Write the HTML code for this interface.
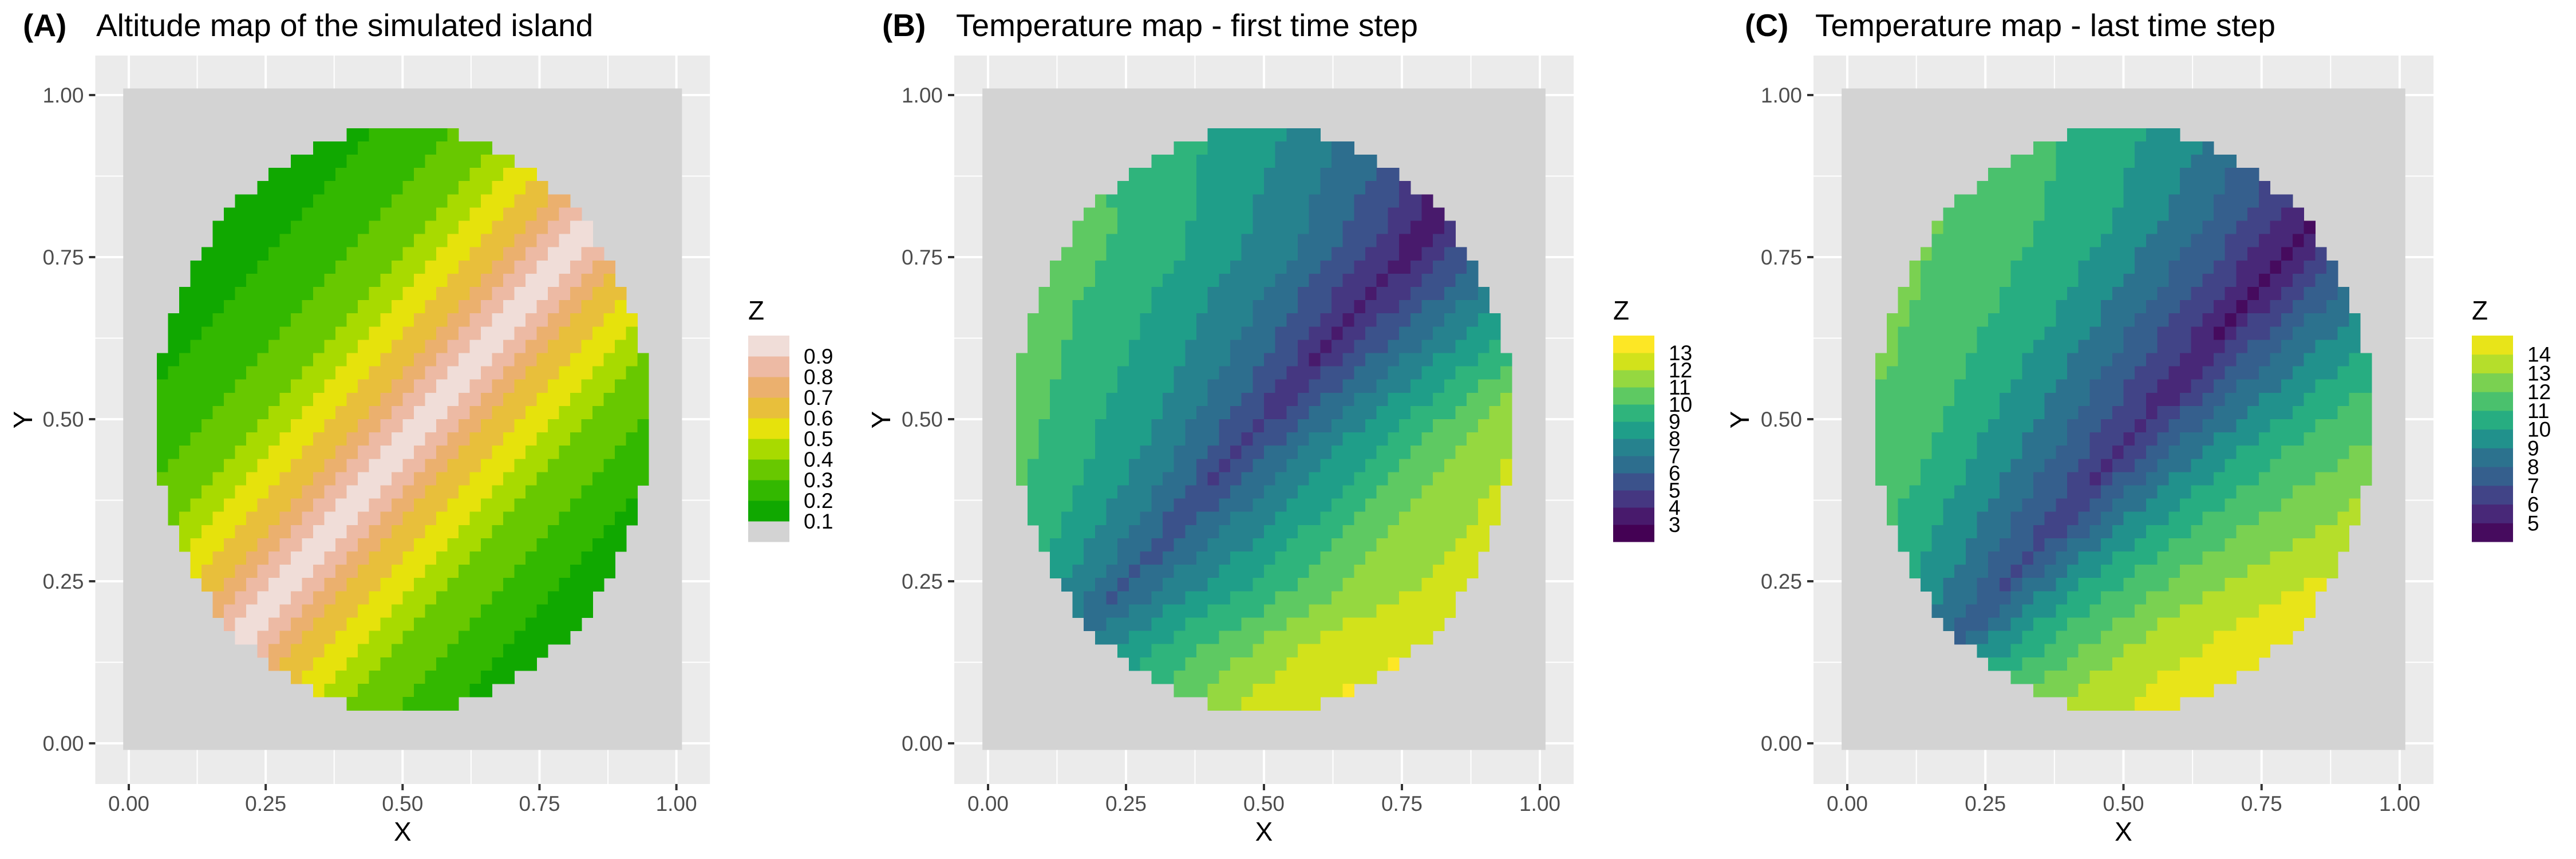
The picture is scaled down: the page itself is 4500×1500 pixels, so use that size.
<!DOCTYPE html>
<html><head><meta charset="utf-8"><style>
html,body{margin:0;padding:0;background:#fff;}
svg{display:block;font-family:"Liberation Sans",Arial,sans-serif;}
</style></head><body>
<svg id="fig" width="4500" height="1500" viewBox="0 0 4500 1500" xmlns="http://www.w3.org/2000/svg">
<rect x="0" y="0" width="4500" height="1500" fill="#ffffff"/>
<g>
<text x="40" y="63" font-size="55" font-weight="bold">(A)</text>
<text x="168" y="63" font-size="55">Altitude map of the simulated island</text>
</g>
<g>
<text x="1541" y="63" font-size="55" font-weight="bold">(B)</text>
<text x="1670" y="63" font-size="55">Temperature map - first time step</text>
</g>
<g>
<text x="3048" y="63" font-size="55" font-weight="bold">(C)</text>
<text x="3171" y="63" font-size="55">Temperature map - last time step</text>
</g>
</svg>
<script>
// ---- data ----
const tickValues = [0, 0.25, 0.5, 0.75, 1];
const tickLabels = ["0.00", "0.25", "0.50", "0.75", "1.00"];
const rasterN = 50;
const islandRadius = 22;
// altitude bin by diagonal index d = col + row - 49 (d from -30 to 32)
const altByDiag = [0.15,0.15,0.15,0.15,0.15,0.15,
 0.25,0.25,0.25,0.25,0.25,0.25,0.25,
 0.35,0.35,0.35,0.35,0.35,
 0.45,0.45,0.45, 0.55,0.55,0.55, 0.65,0.65,0.65, 0.75,0.75, 0.85,0.85,
 0.95,0.95,0.95, 0.85,0.85, 0.75,0.75, 0.65,0.65,0.65, 0.55,0.55,0.55,
 0.45,0.45,0.45, 0.35,0.35,0.35,0.35,0.35, 0.25,0.25,0.25,0.25,0.25,
 0.15,0.15,0.15,0.15,0.15,0.15];
const altColors = ['#d3d3d3','#10a800','#33b800','#68c800','#a8da00','#e6e20c','#e8bf3b','#ebb06e','#edbaa4','#f0ddd8'];
const altLegendLabels = ['0.1','0.2','0.3','0.4','0.5','0.6','0.7','0.8','0.9'];

// temperature, first step: ridge value per row, diagonal profile (d -32..32), east-side amplitude per row
const baseB = [2.3,2.3,2.3,2.3,2.4,2.5,2.6,2.7,2.85,3.0,3.1,3.2,3.3,3.35,3.4,3.45,3.5,3.6,3.7,3.8,
 3.9,4.0,4.1,4.2,4.3,4.45,4.6,4.7,4.8,4.9,5.0,5.1,5.2,5.3,5.4,5.5,5.6,5.7,5.85,6.05,
 6.3,6.55,6.75,6.9,7.0,7.1,7.2,7.2,7.2,7.2];
const profB = [7.3,7.2,7.1,7.0,6.9,6.75,6.6,6.45,6.3,6.15,6.0,5.85,5.7,5.5,5.3,5.1,4.9,4.7,4.5,4.3,
 4.1,3.9,3.7,3.4,3.1,2.8,2.5,2.2,1.9,1.5,1.1,0.7,
 0,
 0.6,1.0,1.4,1.8,2.1,2.5,2.8,3.1,3.5,3.8,4.1,4.4,4.7,5.0,5.3,5.6,5.9,6.2,6.5,6.8,7.0,
 7.2,7.4,7.55,7.7,7.85,8.0,8.1,8.2,8.3,8.4,8.5];
const ampB = [1,1,1,1,1,1,1,1,1,1,1,1,1,1,1,1,1,1,1,1,1,1,1,1,1,1,
 0.98,0.96,0.94,0.92,0.9,0.88,0.86,0.85,0.83,0.82,0.81,0.8,0.79,0.78,
 0.78,0.76,0.75,0.74,0.73,0.73,0.73,0.73,0.73,0.73];
const tempBColors = ['#440154','#481a6c','#453781','#3b528b','#2d6e8e','#26828e','#1f9e89','#2fb47c','#5ec962','#95d840','#d2e21b','#fde725'];
const tempBLabels = ['3','4','5','6','7','8','9','10','11','12','13'];

// temperature, last step
const baseC = [3.9,3.9,3.9,3.9,3.95,4.0,4.1,4.2,4.3,4.4,4.5,4.55,4.6,4.65,4.7,4.8,4.85,4.9,4.95,5.0,
 5.1,5.15,5.2,5.3,5.4,5.5,5.6,5.7,5.8,5.9,6.0,6.1,6.2,6.3,6.45,6.6,6.75,6.9,7.0,7.15,
 7.3,7.4,7.5,7.6,7.7,7.75,7.8,7.8,7.8,7.8];
const profC = [7.5,7.4,7.3,7.2,7.1,7.0,6.9,6.75,6.6,6.45,6.3,
 6.15,6.0,5.85,5.7,5.5,5.3,5.1,4.85,4.6,4.35,4.1,
 3.85,3.6,3.3,3.0,2.7,2.4,2.0,1.7,1.3,1.0,0.6,
 0,
 0.6,1.1,1.6,2.0,2.4,2.8,3.1,3.4,3.7,4.0,4.3,4.55,4.8,5.05,5.3,5.5,5.7,5.85,6.0,6.15,
 6.3,6.45,6.6,6.75,6.9,7.0,7.1,7.2,7.3,7.4,7.5];
const tempCColors = ['#460b5e','#482878','#414487','#355f8d','#2c728e','#21918c','#27ad81','#4ac16d','#7ad151','#b5de2b','#e8e419'];
const tempCLabels = ['5','6','7','8','9','10','11','12','13','14'];

// ---- drawing ----
const NS = 'http://www.w3.org/2000/svg';
const svg = document.getElementById('fig');
function mk(tag, attrs, parent) {
  const e = document.createElementNS(NS, tag);
  for (const k in attrs) e.setAttribute(k, attrs[k]);
  (parent || svg).appendChild(e);
  return e;
}
const Y0 = 1298, YS = 1132, PT = 97, PB = 1369;

function altColor(r, c) {
  let d = c + r - 49;
  d = Math.max(-30, Math.min(32, d));
  const v = altByDiag[d + 30];
  return altColors[Math.max(0, Math.min(9, Math.floor(v * 10 + 1e-9)))];
}
function tempBColor(r, c) {
  let d = Math.max(-32, Math.min(32, c + r - 49));
  const T = baseB[r] + (d > 0 ? ampB[r] : 1) * profB[d + 32];
  return tempBColors[Math.max(0, Math.min(11, Math.floor(T) - 2))];
}
function tempCColor(r, c) {
  let d = Math.max(-32, Math.min(32, c + r - 50));
  const T = baseC[r] + profC[d + 32];
  return tempCColors[Math.max(0, Math.min(10, Math.floor(T) - 4))];
}

function drawPanel(id, x0, xs, colorFn, yTitleX, legendX, colors, labels) {
  const sx = v => x0 + v * xs;
  const sy = v => Y0 - v * YS;
  const left = sx(-0.0612), right = sx(1.0612);
  const g = mk('g', {});
  
  
  const bg = mk('rect', {x: left, y: PT, width: right - left, height: PB - PT, fill: '#ebebeb'}, g);
  
  
  for (let i = 0; i < tickValues.length - 1; i++) {
    const m = (tickValues[i] + tickValues[i + 1]) / 2;
    const lx = mk('line', {x1: sx(m), x2: sx(m), y1: PT, y2: PB, stroke: '#fff', 'stroke-width': 2}, g);
    
    
    const ly = mk('line', {x1: left, x2: right, y1: sy(m), y2: sy(m), stroke: '#fff', 'stroke-width': 2}, g);
    
    
  }
  tickValues.forEach((v, i) => {
    const lx = mk('line', {x1: sx(v), x2: sx(v), y1: PT, y2: PB, stroke: '#fff', 'stroke-width': 4}, g);
    
    
    const ly = mk('line', {x1: left, x2: right, y1: sy(v), y2: sy(v), stroke: '#fff', 'stroke-width': 4}, g);
    
    
    const tx = mk('line', {x1: sx(v), x2: sx(v), y1: PB, y2: PB + 11, stroke: '#333', 'stroke-width': 4}, g);
    
    
    const ty = mk('line', {x1: left - 11, x2: left, y1: sy(v), y2: sy(v), stroke: '#333', 'stroke-width': 4}, g);
    
    
    const xl = mk('text', {x: sx(v), y: PB + 47, 'font-size': 37, fill: '#4d4d4d', 'text-anchor': 'middle'}, g);
    xl.textContent = tickLabels[i];
    
    
    const yl = mk('text', {x: left - 20, y: sy(v) + 13, 'font-size': 37, fill: '#4d4d4d', 'text-anchor': 'end'}, g);
    yl.textContent = tickLabels[i];
    
    
  });
  const cw = xs / (rasterN - 1), ch = YS / (rasterN - 1);
  const sea = mk('rect', {x: sx(0) - cw / 2, y: sy(1) - ch / 2, width: cw * rasterN, height: ch * rasterN, fill: '#d3d3d3'}, g);
  
  
  const cg = mk('g', {'shape-rendering': 'crispEdges'}, g);
  
  
  const ctr = (rasterN - 1) / 2;
  for (let r = 0; r < rasterN; r++) {
    for (let c = 0; c < rasterN; c++) {
      if ((c - ctr) * (c - ctr) + (r - ctr) * (r - ctr) > islandRadius * islandRadius) continue;
      const xv = c / (rasterN - 1), yv = (rasterN - 1 - r) / (rasterN - 1);
      const cell = mk('rect', {x: sx(xv) - cw / 2, y: sy(yv) - ch / 2, width: cw + 0.6, height: ch + 0.6, fill: colorFn(r, c)}, cg);
      
      
    }
  }
  const xt = mk('text', {x: (left + right) / 2, y: 1468, 'font-size': 46, 'text-anchor': 'middle'}, g);
  xt.textContent = 'X';
  
  
  const cy = (PT + PB) / 2;
  const yt = mk('text', {x: 0, y: 0, 'font-size': 46, 'text-anchor': 'middle', transform: 'translate(' + (yTitleX + 16) + ' ' + cy + ') rotate(-90)'}, g);
  yt.textContent = 'Y';
  
  
  const lg = mk('g', {}, svg);
  
  
  const lt = mk('text', {x: legendX, y: 558, 'font-size': 46}, lg);
  lt.textContent = 'Z';
  
  
  const top = 586, bottom = 946, kh = (bottom - top) / colors.length;
  colors.forEach((col, i) => {
    const k = mk('rect', {x: legendX, y: bottom - (i + 1) * kh, width: 72, height: kh + 0.5, fill: col}, lg);
    
    
  });
  labels.forEach((lab, i) => {
    const t = mk('text', {x: legendX + 97, y: bottom - (i + 1) * kh + 13, 'font-size': 37}, lg);
    t.textContent = lab;
    
    
  });
}
drawPanel('a', 225, 956.6, altColor, 40, 1307, altColors, altLegendLabels);
drawPanel('b', 1726, 964, tempBColor, 1539, 2818, tempBColors, tempBLabels);
drawPanel('c', 3227, 965, tempCColor, 3039, 4318, tempCColors, tempCLabels);
</script>
</body></html>
